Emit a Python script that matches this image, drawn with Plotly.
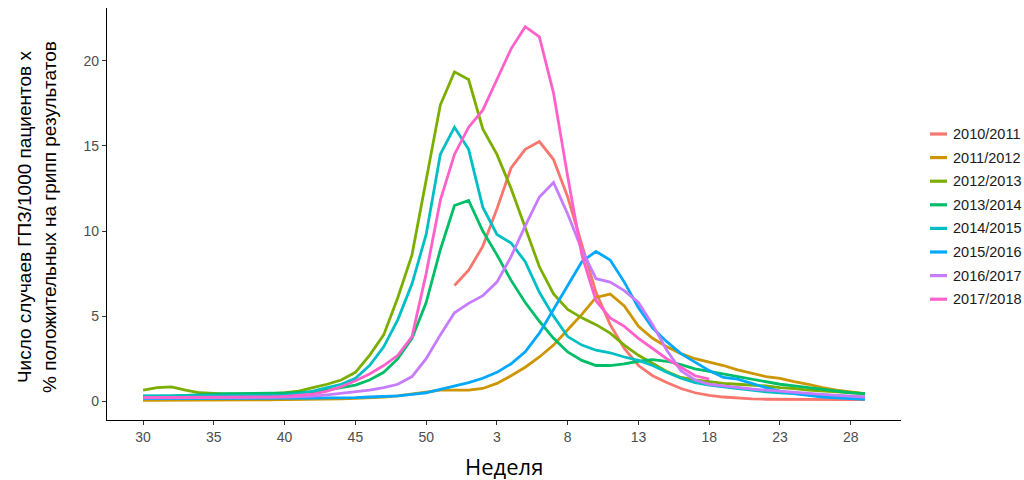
import plotly.graph_objects as go

weeks = list(range(30, 53)) + list(range(1, 30))
tick_weeks = [30, 35, 40, 45, 50, 3, 8, 13, 18, 23, 28]

seasons = ["2010/2011", "2011/2012", "2012/2013", "2013/2014",
           "2014/2015", "2015/2016", "2016/2017", "2017/2018"]
colors = ["#F8766D", "#CD9600", "#7CAE00", "#00BE67",
          "#00BFC4", "#00A9FF", "#C77CFF", "#FF61CC"]

s2010 = [None] * 22 + [6.8, 7.7, 9.1, 11.3, 13.7, 14.8, 15.25, 14.2, 12.0, 9.2,
                       6.4, 4.5, 3.1, 2.1, 1.5, 1.1, 0.75, 0.5, 0.35, 0.25,
                       0.18, 0.14, 0.12, 0.11, 0.1, 0.1, 0.1, 0.1, 0.1, 0.1]
s2011 = [0.05, 0.05, 0.05, 0.05, 0.05, 0.06, 0.07, 0.08, 0.08, 0.09,
         0.1, 0.1, 0.1, 0.12, 0.14, 0.17, 0.2, 0.25, 0.32, 0.42,
         0.55, 0.65, 0.65, 0.65, 0.75, 1.05, 1.5, 2.0, 2.6, 3.3,
         4.2, 5.1, 6.1, 6.3, 5.6, 4.4, 3.7, 3.2, 2.8, 2.5,
         2.3, 2.1, 1.85, 1.65, 1.45, 1.35, 1.15, 1.0, 0.8, 0.65,
         0.55, 0.45]
s2012 = [0.65, 0.8, 0.85, 0.65, 0.5, 0.45, 0.42, 0.42, 0.43, 0.45,
         0.5, 0.6, 0.8, 1.0, 1.25, 1.7, 2.7, 3.9, 6.1, 8.6,
         13.0, 17.4, 19.35, 18.9, 16.0, 14.5, 12.5, 10.2, 7.9, 6.3,
         5.4, 4.9, 4.5, 4.0, 3.3, 2.7, 2.2, 1.75, 1.4, 1.25,
         1.15, 1.05, 1.0, 0.95, 0.9, 0.8, 0.75, 0.65, 0.6, 0.55,
         0.5, 0.45]
s2013 = [0.3, 0.3, 0.32, 0.35, 0.4, 0.42, 0.45, 0.47, 0.47, 0.47,
         0.47, 0.5, 0.55, 0.65, 0.8, 0.95, 1.25, 1.7, 2.5, 3.7,
         5.8, 8.9, 11.5, 11.8, 10.0, 8.6, 7.1, 5.8, 4.7, 3.7,
         2.9, 2.4, 2.1, 2.1, 2.2, 2.35, 2.45, 2.35, 2.15, 1.9,
         1.75, 1.6, 1.45, 1.3, 1.15, 1.0, 0.9, 0.8, 0.7, 0.6,
         0.5, 0.45]
s2014 = [0.32, 0.32, 0.32, 0.32, 0.32, 0.32, 0.32, 0.32, 0.33, 0.34,
         0.36, 0.45, 0.6, 0.8, 1.0, 1.35, 2.1, 3.2, 4.8, 6.9,
         9.8, 14.5, 16.1, 14.8, 11.4, 9.8, 9.3, 8.2, 6.4, 5.0,
         3.8, 3.3, 3.0, 2.85, 2.6, 2.4, 2.1, 1.7, 1.35, 1.1,
         0.95, 0.85, 0.75, 0.65, 0.55, 0.5, 0.45, 0.4, 0.35, 0.3,
         0.28, 0.25]
s2015 = [0.15, 0.15, 0.15, 0.15, 0.15, 0.15, 0.16, 0.16, 0.17, 0.17,
         0.18, 0.18, 0.19, 0.2, 0.2, 0.22, 0.25, 0.28, 0.32, 0.4,
         0.5, 0.7, 0.9, 1.1, 1.35, 1.7, 2.2, 2.9, 4.0, 5.4,
         6.8, 8.2, 8.8, 8.3, 7.0, 5.5, 4.3, 3.5, 2.8, 2.3,
         1.8, 1.4, 1.3, 1.05, 0.8, 0.6, 0.45, 0.35, 0.25, 0.2,
         0.15, 0.12]
s2016 = [0.2, 0.2, 0.2, 0.2, 0.2, 0.2, 0.2, 0.2, 0.21, 0.22,
         0.24, 0.27, 0.3, 0.38, 0.48, 0.55, 0.65, 0.8, 1.0, 1.45,
         2.5, 3.9, 5.2, 5.75, 6.2, 7.0, 8.5, 10.3, 12.0, 12.85,
         11.0, 8.9, 7.2, 7.0, 6.5, 5.8, 4.5, 3.0, 1.8, 1.25,
         1.0, 0.9, 0.8, 0.72, 0.65, 0.58, 0.52, 0.45, 0.4, 0.35,
         0.3, 0.25]
s2017 = [0.22, 0.22, 0.22, 0.22, 0.22, 0.22, 0.23, 0.24, 0.25, 0.26,
         0.28, 0.33, 0.42, 0.6, 0.85, 1.2, 1.6, 2.1, 2.7, 3.8,
         7.5, 11.8, 14.5, 16.1, 17.1, 18.9, 20.7, 22.0, 21.4, 18.1,
         13.2, 8.6, 5.9, 4.9, 4.4, 3.7, 3.1, 2.5, 2.0, 1.5,
         1.3] + [None] * 11

series = [s2010, s2011, s2012, s2013, s2014, s2015, s2016, s2017]

x_idx = list(range(len(weeks)))
tick_idx = [weeks.index(w) if w >= 30 else 23 + weeks[23:].index(w) for w in tick_weeks]

fig = go.Figure()
for name, col, vals in zip(seasons, colors, series):
    fig.add_trace(go.Scatter(
        x=x_idx, y=vals, mode="lines", name=name, showlegend=False,
        line=dict(color=col, width=2.8), connectgaps=False,
    ))

W, H = 1024, 480
ML, MR, MT, MB = 107, 123, 8, 60
pw, ph = W - ML - MR, H - MT - MB


def px_x(p):
    return (p - ML) / pw


def px_y(p):
    return (H - MB - p) / ph


# manual legend (ggplot style, right side)
shapes = []
annotations = []
for i, (name, col) in enumerate(zip(seasons, colors)):
    yy = px_y(134 + i * 23.6)
    shapes.append(dict(type="line", xref="paper", yref="paper",
                       x0=px_x(930), x1=px_x(947), y0=yy, y1=yy,
                       line=dict(color=col, width=3.2)))
    annotations.append(dict(text=name, xref="paper", yref="paper",
                            x=px_x(951), y=yy, xanchor="left", yanchor="middle",
                            showarrow=False,
                            font=dict(family="Liberation Sans, Arial", size=14.5,
                                      color="#1A1A1A")))

annotations.append(dict(
    text="Число случаев ГПЗ/1000 пациентов х<br>% положительных на грипп результатов",
    xref="paper", yref="paper", x=px_x(37), y=px_y(217), xanchor="center",
    yanchor="middle", textangle=-90, showarrow=False,
    font=dict(family="Liberation Sans, Arial", size=19, color="black")))
annotations.append(dict(
    text="Неделя", xref="paper", yref="paper", x=px_x(504), y=px_y(466),
    xanchor="center", yanchor="middle", showarrow=False,
    font=dict(family="Open Sans", size=22, color="black")))

axis_font = dict(family="Liberation Sans, Arial", size=14, color="#4D4D4D")
fig.update_layout(
    width=W, height=H,
    margin=dict(l=ML, r=MR, t=MT, b=MB),
    paper_bgcolor="white", plot_bgcolor="white",
    font=dict(family="Liberation Sans, Arial", color="black"),
    showlegend=False,
    xaxis=dict(
        range=[-2.55, 53.55], tickmode="array", tickvals=tick_idx,
        ticktext=[str(w) for w in tick_weeks],
        showgrid=False, zeroline=False, showline=True, linecolor="black",
        linewidth=1.2, ticks="outside", ticklen=4, tickcolor="#333333",
        tickfont=axis_font,
    ),
    yaxis=dict(
        range=[-1.1, 23.1], tickmode="array", tickvals=[0, 5, 10, 15, 20],
        showgrid=False, zeroline=False, showline=True, linecolor="black",
        linewidth=1.2, ticks="outside", ticklen=4, tickcolor="#333333",
        tickfont=axis_font,
    ),
    shapes=shapes,
    annotations=annotations,
)

fig.write_html("out.html")
